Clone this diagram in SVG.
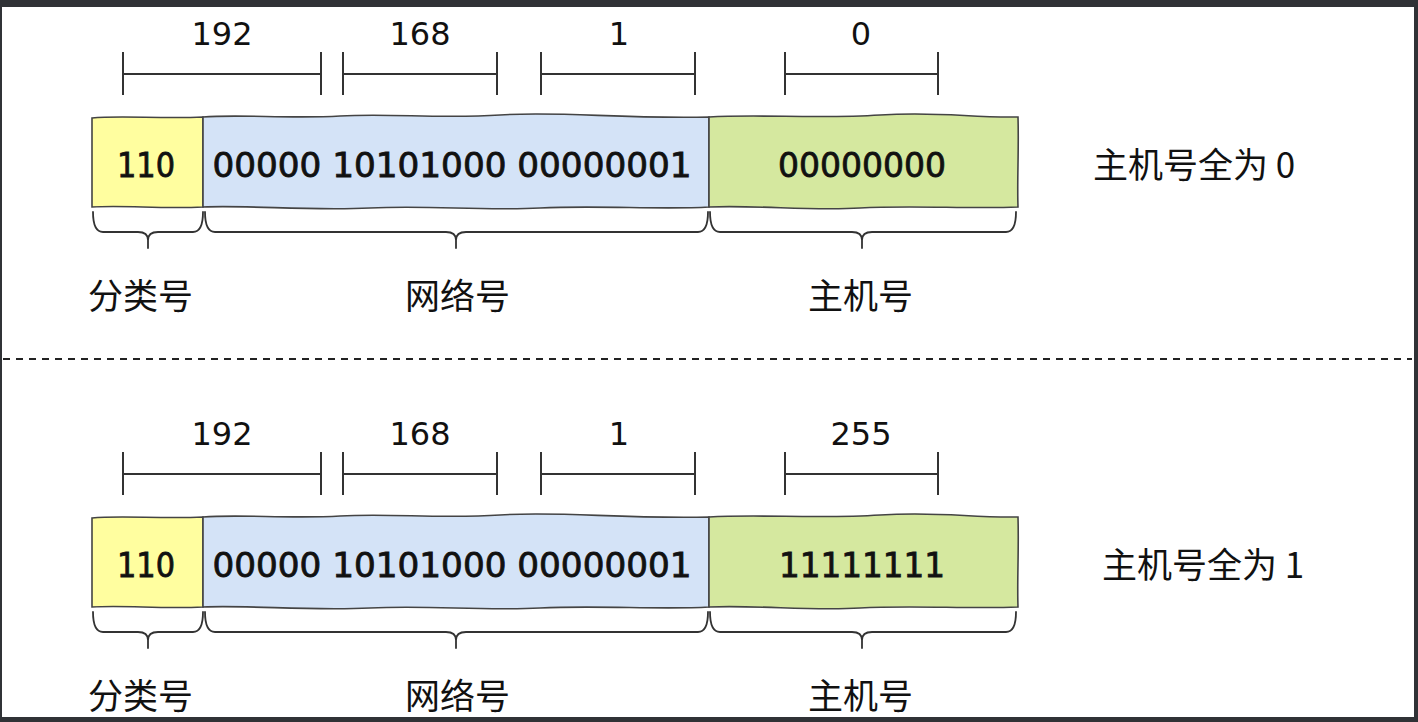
<svg xmlns="http://www.w3.org/2000/svg" width="1418" height="722" viewBox="0 0 1418 722">
<style>
.frame{fill:#303236}
.num{font-family:"DejaVu Sans","Liberation Sans",sans-serif;font-size:32px;fill:#111;text-anchor:middle}
.bits{font-family:"DejaVu Sans","Liberation Sans",sans-serif;font-size:33px;fill:#111;text-anchor:middle;stroke:#111;stroke-width:0.8}
.cjk{font-family:"Noto Sans CJK SC","Noto Sans",sans-serif;font-size:35px;fill:#111}
.bar{fill:none;stroke:#333;stroke-width:2}
.box{stroke:#444;stroke-width:1.6}
.brace{fill:none;stroke:#333;stroke-width:1.8;stroke-linecap:round;stroke-linejoin:round}
.yel{fill:#fffe9f}
.blu{fill:#d4e3f7}
.grn{fill:#d5e89f}
</style>
<rect x="0" y="0" width="1418" height="722" class="frame"/>
<rect x="2" y="7" width="1412" height="710" fill="#ffffff"/>
<line x1="3" y1="359" x2="1412" y2="359" stroke="#222" stroke-width="2" stroke-dasharray="7 6"/>

<g id="top-half">
  <g id="top-scale" class="bar">
    <path d="M123 52V95M123 74H321M321 52V95"/>
    <path d="M343 52V95M343 74H497M497 52V95"/>
    <path d="M541 52V95M541 74H695M695 52V95"/>
    <path d="M785 52V95M785 74H938M938 52V95"/>
  </g>
  <g id="top-scale-labels">
    <text class="num" x="222" y="45">192</text>
    <text class="num" x="420" y="45">168</text>
    <text class="num" x="619" y="45">1</text>
    <text class="num" x="861" y="45">0</text>
  </g>
  <g id="top-class">
    <path class="box yel" d="M92 118C120 115 160 119 203 117L203 207C160 209 125 205 92 207Z"/>
    <text class="bits" x="146" y="177" textLength="58" lengthAdjust="spacingAndGlyphs">110</text>
  </g>
  <g id="top-net">
    <path class="box blu" d="M203 117C240 114 290 119 340 116S440 119 500 115S620 119 709 117L709 207C660 210 600 205 540 208S430 205 370 208S250 205 203 207Z"/>
    <text class="bits" x="452" y="177" textLength="479" lengthAdjust="spacingAndGlyphs">00000 10101000 00000001</text>
  </g>
  <g id="top-host">
    <path class="box grn" d="M709 117C760 114 820 119 880 115S970 118 1018 117C1019 150 1017 180 1018 207C970 209 910 205 860 208S760 205 709 207Z"/>
    <text class="bits" x="862" y="177" textLength="168" lengthAdjust="spacingAndGlyphs">00000000</text>
  </g>
  <g id="top-braces" class="brace">
    <path d="M93 212Q93 232 103 232L138 232Q148 232 148 240L148 248M148 240Q148 232 158 232L193 232Q203 232 203 212"/>
    <path d="M205 212Q205 232 215 232L446 232Q456 232 456 240L456 248M456 240Q456 232 466 232L698 232Q708 232 708 212"/>
    <path d="M710 212Q710 232 720 232L852 232Q862 232 862 240L862 248M862 240Q862 232 872 232L1006 232Q1016 232 1016 212"/>
  </g>
  <g id="top-labels">
    <text class="cjk" x="88" y="309">分类号</text>
    <text class="cjk" x="405" y="309">网络号</text>
    <text class="cjk" x="808" y="309">主机号</text>
    <text class="cjk" x="1093" y="178">主机号全为 0</text>
  </g>
</g>

<g id="bottom-half" transform="translate(0,400)">
  <g id="bottom-scale" class="bar">
    <path d="M123 52V95M123 74H321M321 52V95"/>
    <path d="M343 52V95M343 74H497M497 52V95"/>
    <path d="M541 52V95M541 74H695M695 52V95"/>
    <path d="M785 52V95M785 74H938M938 52V95"/>
  </g>
  <g id="bottom-scale-labels">
    <text class="num" x="222" y="45">192</text>
    <text class="num" x="420" y="45">168</text>
    <text class="num" x="619" y="45">1</text>
    <text class="num" x="861" y="45">255</text>
  </g>
  <g id="bottom-class">
    <path class="box yel" d="M92 118C120 115 160 119 203 117L203 207C160 209 125 205 92 207Z"/>
    <text class="bits" x="146" y="177" textLength="58" lengthAdjust="spacingAndGlyphs">110</text>
  </g>
  <g id="bottom-net">
    <path class="box blu" d="M203 117C240 114 290 119 340 116S440 119 500 115S620 119 709 117L709 207C660 210 600 205 540 208S430 205 370 208S250 205 203 207Z"/>
    <text class="bits" x="452" y="177" textLength="479" lengthAdjust="spacingAndGlyphs">00000 10101000 00000001</text>
  </g>
  <g id="bottom-host">
    <path class="box grn" d="M709 117C760 114 820 119 880 115S970 118 1018 117C1019 150 1017 180 1018 207C970 209 910 205 860 208S760 205 709 207Z"/>
    <text class="bits" x="862" y="177" textLength="166" lengthAdjust="spacingAndGlyphs">11111111</text>
  </g>
  <g id="bottom-braces" class="brace">
    <path d="M93 212Q93 232 103 232L138 232Q148 232 148 240L148 248M148 240Q148 232 158 232L193 232Q203 232 203 212"/>
    <path d="M205 212Q205 232 215 232L446 232Q456 232 456 240L456 248M456 240Q456 232 466 232L698 232Q708 232 708 212"/>
    <path d="M710 212Q710 232 720 232L852 232Q862 232 862 240L862 248M862 240Q862 232 872 232L1006 232Q1016 232 1016 212"/>
  </g>
  <g id="bottom-labels">
    <text class="cjk" x="88" y="309">分类号</text>
    <text class="cjk" x="405" y="309">网络号</text>
    <text class="cjk" x="808" y="309">主机号</text>
    <text class="cjk" x="1102" y="178">主机号全为 1</text>
  </g>
</g>
</svg>
